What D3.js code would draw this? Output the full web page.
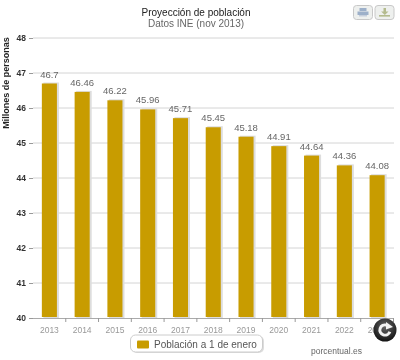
<!DOCTYPE html>
<html><head><meta charset="utf-8">
<script src="https://cdnjs.cloudflare.com/ajax/libs/d3/7.8.5/d3.min.js"></script>
<style>html,body{margin:0;padding:0;background:#fff}svg{display:block}</style></head>
<body><svg id="c" width="400" height="360"></svg>
<script>
const categories=["2013","2014","2015","2016","2017","2018","2019","2020","2021","2022","2023"];
const values=[46.7,46.46,46.22,45.96,45.71,45.45,45.18,44.91,44.64,44.36,44.08];
const yTicks=[40,41,42,43,44,45,46,47,48];
const titleText="Proyección de población";
const subtitleText="Datos INE (nov 2013)";
const yTitle="Millones de personas";
const legendText="Población a 1 de enero";
const creditText="porcentual.es";
const font="Liberation Sans, Arial, sans-serif";
const gold="#c89c04";
const svg=d3.select("#c");
const x=d3.scaleBand().domain(categories).range([33,393.5]).paddingInner(0.54).paddingOuter(0.27);
const y=d3.scaleLinear().domain([40,48]).range([318,38]);
const blur=svg.append("defs").append("filter").attr("id","soft").attr("x","-20%").attr("width","140%");
blur.append("feGaussianBlur").attr("stdDeviation",0.35);
const root=svg.append("g").attr("filter","url(#soft)");
root.append("g").selectAll("line").data(yTicks.slice(1)).join("line")
 .attr("x1",33).attr("x2",394).attr("y1",d=>y(d)).attr("y2",d=>y(d))
 .attr("stroke","#d4d4d4").attr("stroke-width",1);
const yAxis=root.append("g").attr("transform","translate(33,0)")
 .call(d3.axisLeft(y).tickValues(yTicks).tickSize(4).tickPadding(3).tickFormat(d3.format("d")));
yAxis.select(".domain").remove();
yAxis.selectAll("line").attr("stroke","#999");
yAxis.selectAll("text").attr("font-family",font).attr("font-size",8.5).attr("font-weight","bold").attr("fill","#333");
root.append("g").selectAll("rect").data(values).join("rect")
 .attr("x",(d,i)=>x(categories[i])+1.5).attr("y",d=>y(d)-1).attr("width",x.bandwidth()+.5).attr("height",d=>y(40)-y(d)+1)
 .attr("fill","#ddd");
root.append("g").selectAll("rect").data(values).join("rect")
 .attr("x",(d,i)=>x(categories[i])).attr("y",d=>y(d)).attr("width",x.bandwidth()).attr("height",d=>y(40)-y(d)-1)
 .attr("fill",gold);
root.append("g").selectAll("text").data(values).join("text")
 .attr("x",(d,i)=>x(categories[i])+x.bandwidth()/2).attr("y",d=>y(d)-6)
 .attr("text-anchor","middle").attr("font-family",font).attr("font-size",9.5).attr("fill","#666").text(d=>d);
const xTicksG=root.append("g");
xTicksG.append("line").attr("x1",33).attr("x2",394).attr("y1",318.5).attr("y2",318.5).attr("stroke","#aaa");
const step=x.step();
xTicksG.selectAll(".t").data(categories).join("line").attr("class","t")
 .attr("x1",d=>x(d)+x.bandwidth()/2+step/2).attr("x2",d=>x(d)+x.bandwidth()/2+step/2)
 .attr("y1",318).attr("y2",322).attr("stroke","#999");
xTicksG.selectAll("text").data(categories).join("text")
 .attr("x",d=>x(d)+x.bandwidth()/2).attr("y",333).attr("text-anchor","middle")
 .attr("font-family",font).attr("font-size",8.5).attr("fill","#999").text(d=>d);
root.append("text").attr("x",196).attr("y",16).attr("text-anchor","middle").attr("font-family",font).attr("font-size",10).attr("fill","#222").text(titleText);
root.append("text").attr("x",196).attr("y",27).attr("text-anchor","middle").attr("font-family",font).attr("font-size",10).attr("fill","#666").text(subtitleText);
root.append("text").attr("transform","translate(9,83) rotate(-90)").attr("text-anchor","middle").attr("font-family",font).attr("font-size",9).attr("font-weight","bold").attr("fill","#222").text(yTitle);
root.append("rect").attr("x",132).attr("y",336).attr("width",132).attr("height",17).attr("rx",5).attr("fill","#ddd");
root.append("rect").attr("x",130.5).attr("y",335).attr("width",132).attr("height",17).attr("rx",5).attr("fill","#fff").attr("stroke","#ccc");
root.append("rect").attr("x",137).attr("y",340.5).attr("width",12).attr("height",8).attr("rx",1).attr("fill",gold);
root.append("text").attr("x",154).attr("y",348).attr("font-family",font).attr("font-size",10).attr("fill","#555").text(legendText);
root.append("text").attr("x",311).attr("y",354).attr("font-family",font).attr("font-size",8.5).attr("fill","#666").text(creditText);
[[353.5,"#9db0c9"],[375,"#b4bb8e"]].forEach(([bx,c],k)=>{
 root.append("rect").attr("x",bx).attr("y",5.5).attr("width",19).attr("height",14).attr("rx",3).attr("fill","#eef0ee").attr("stroke","#c8c8c8");
 if(k===0){
  root.append("rect").attr("x",bx+6).attr("y",8).attr("width",7).attr("height",3).attr("fill",c);
  root.append("rect").attr("x",bx+4).attr("y",11.5).attr("width",11).attr("height",3.5).attr("fill",c);
  root.append("rect").attr("x",bx+5.5).attr("y",15).attr("width",8).attr("height",1.5).attr("fill","#c5cedb");
 } else {
  root.append("path").attr("d",`M${bx+8.5} 8h2.5v3.5h2.5l-3.7 3.5l-3.7-3.5h2.4z`).attr("fill",c);
  root.append("rect").attr("x",bx+4).attr("y",15).attr("width",11).attr("height",1.6).attr("fill",c);
 }
});
const rg=svg.append("g").attr("transform","translate(385,330)");
const grad=svg.select("defs").append("radialGradient").attr("id","rl").attr("cy","35%").attr("r","70%");
grad.append("stop").attr("offset","0").attr("stop-color","#666");
grad.append("stop").attr("offset","1").attr("stop-color","#0c0c0c");
rg.append("circle").attr("r",11.5).attr("fill","url(#rl)");
rg.append("path").attr("d",d3.arc()({innerRadius:3.6,outerRadius:6.6,startAngle:1.9,endAngle:6.6})).attr("fill","#f2f2f2");
rg.append("path").attr("d","M1 -8 L8 -3 L1 -0.5 Z").attr("fill","#f2f2f2");
</script></body></html>
